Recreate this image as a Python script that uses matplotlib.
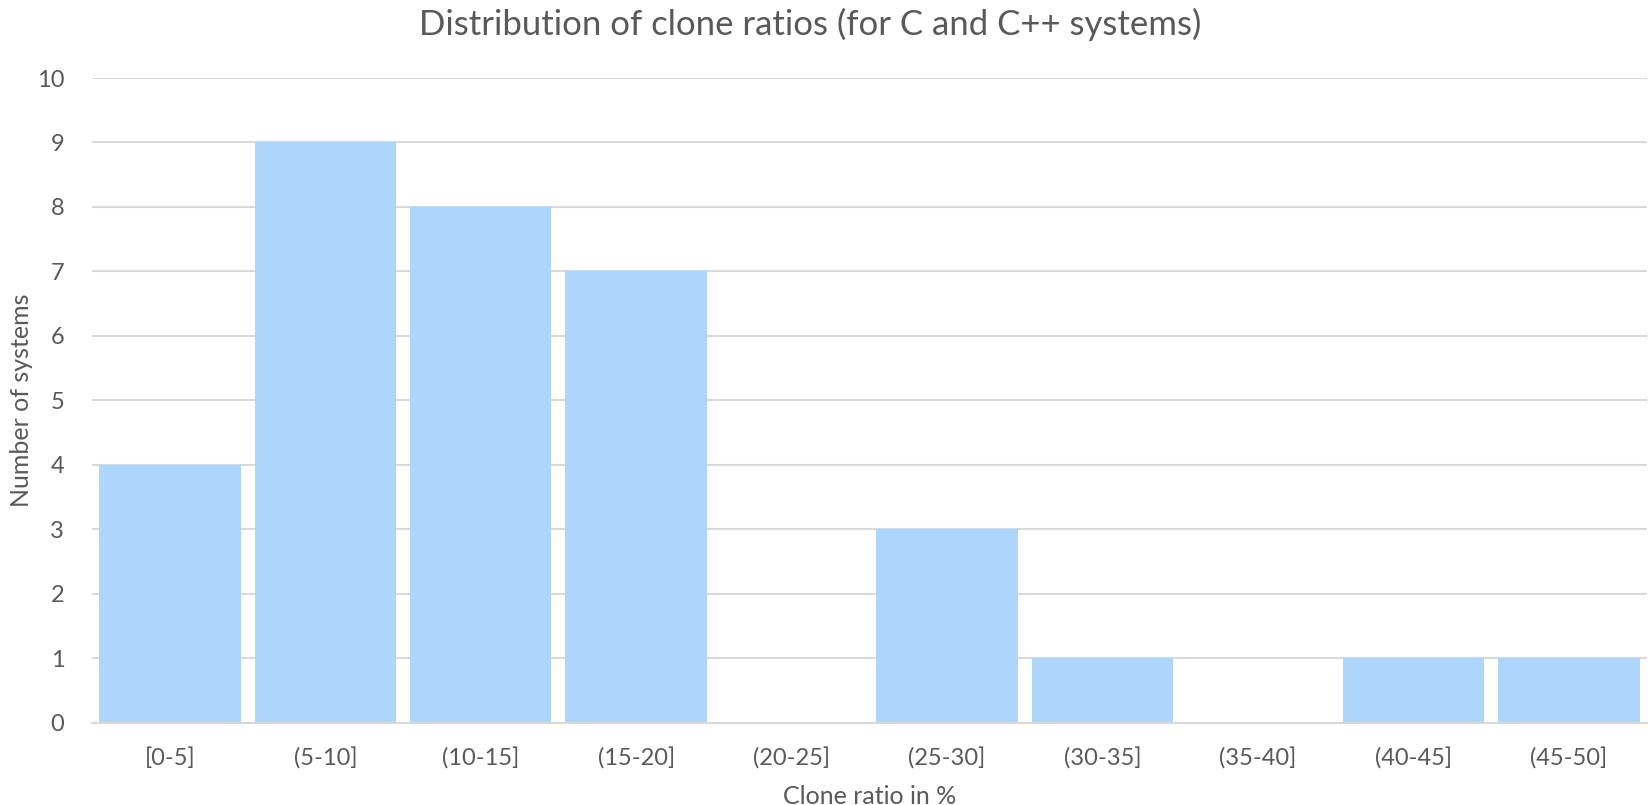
import matplotlib
matplotlib.use("Agg")
import matplotlib.pyplot as plt
import numpy as np

# clone ratio bins and number of systems in each
categories = ["[0-5]", "(5-10]", "(10-15]", "(15-20]", "(20-25]",
              "(25-30]", "(30-35]", "(35-40]", "(40-45]", "(45-50]"]
counts = [4, 9, 8, 7, 0, 3, 1, 0, 1, 1]
yticks = list(range(0, 11))

plt.rcParams['font.family'] = ['Lato', 'DejaVu Sans']
text_col = "#595959"
grid_col = "#D9D9D9"
bar_col = "#AED6FC"

fig = plt.figure(figsize=(16.5, 8.05), dpi=100)
ax = fig.add_axes([0.0558, 0.1022, 0.9422, 0.8009])

x = np.arange(len(categories))
ax.bar(x, counts, width=0.91, color=bar_col, zorder=2)

ax.set_xlim(-0.5, len(categories) - 0.5)
ax.set_ylim(0, 10)
ax.set_yticks(yticks)
ax.set_xticks(x)
ax.set_xticklabels(categories)
ax.yaxis.grid(True, color=grid_col, linewidth=1.5, zorder=0)
ax.set_axisbelow(True)
for s in ["top", "right", "left"]:
    ax.spines[s].set_visible(False)
ax.spines["bottom"].set_color(grid_col)
ax.spines["bottom"].set_linewidth(1.5)
ax.tick_params(axis="both", length=0, labelsize=17, colors=text_col)
ax.tick_params(axis="x", pad=18)
ax.tick_params(axis="y", pad=20)

ax.set_xlabel("Clone ratio in %", fontsize=18, color=text_col, labelpad=11)
ax.set_ylabel("Number of systems", fontsize=18, color=text_col, labelpad=3)
fig.text(0.491, 0.97, "Distribution of clone ratios (for C and C++ systems)",
         ha="center", va="center", fontsize=25, color=text_col)

fig.savefig("out.png", dpi=100)
